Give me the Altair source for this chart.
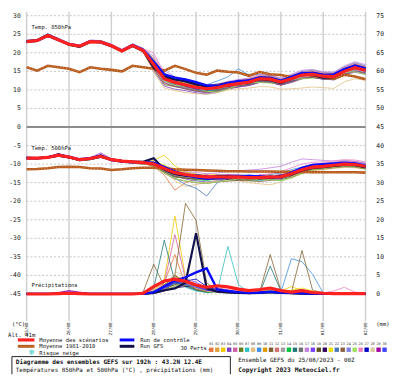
import altair as alt
import pandas as pd

# ---------------- data ----------------
HOURS = list(range(0, 193, 6))
DAY_TICKS = list(range(0, 193, 24))
DAY_LABELS = ["25/08", "26/08", "27/08", "28/08", "29/08", "30/08", "31/08", "01/09", "02/09"]
LEFT_TICKS = list(range(-45, 31, 5))
RIGHT_TICKS = list(range(0, 76, 5))
PRECIP_ZERO = -45  # 0 mm of the right axis sits on -45 of the left axis

PERT_IDS = ["%02d" % i for i in range(1, 31)]
PERT_COLORS = ["#e8743b", "#e0a040", "#f0c800", "#8040c0", "#d060a0", "#608020", "#30c0c0", "#e0c080",
               "#4090e0", "#e09800", "#806030", "#d07070", "#a0a0a0", "#00c040", "#207878", "#707070",
               "#c080e0", "#8040ff", "#605020", "#300060", "#e8e000", "#4878b8", "#8a6040", "#8080e0",
               "#a0e060", "#f080c0", "#0000c0", "#d8c8a0", "#a000a0", "#4040ff"]

T850_MEAN = [23.0, 23.3, 24.7, 23.5, 22.3, 21.8, 23.0, 22.9, 21.9, 20.5, 22.0, 20.6, 16.8, 13.0, 12.0, 11.3, 10.7, 10.3, 10.6, 11.3, 11.7, 12.1, 13.0, 12.9, 12.1, 13.0, 14.0, 14.2, 13.7, 13.6, 15.0, 16.0, 15.3]
T850_CTRL = [23.0, 23.2, 24.6, 23.4, 22.4, 21.8, 23.1, 22.8, 21.8, 20.6, 22.1, 20.8, 17.6, 14.2, 13.3, 12.8, 12.1, 11.2, 10.9, 11.8, 12.4, 12.5, 13.3, 13.1, 12.4, 13.5, 14.6, 14.5, 14.0, 14.2, 15.6, 16.5, 15.8]
T850_GFS = [23.1, 23.4, 24.9, 23.6, 22.2, 21.6, 22.9, 23.0, 22.0, 20.4, 21.8, 20.5, 16.0, 13.5, 12.8, 12.3, 11.5, 10.9, 11.0, 11.9, 12.0, 12.0, 12.8, 12.6, 11.8, 12.9, 14.2, 14.0, 13.3, 13.4, 15.2, 16.2, 15.4]
T850_CLIM = [16.1, 15.2, 16.5, 16.1, 15.7, 14.8, 16.1, 15.7, 15.4, 15.0, 16.5, 16.1, 15.7, 15.2, 16.5, 15.6, 14.6, 14.1, 15.2, 14.9, 14.7, 13.8, 14.8, 14.2, 14.0, 13.5, 14.4, 13.8, 13.5, 13.0, 14.1, 13.6, 12.9]

T500_MEAN = [-8.4, -8.4, -8.2, -7.6, -8.1, -8.8, -8.5, -7.9, -8.8, -9.2, -9.4, -9.6, -10.0, -11.2, -12.3, -12.8, -13.2, -13.5, -13.4, -13.5, -13.5, -13.6, -13.6, -13.5, -13.4, -12.6, -11.5, -10.8, -10.6, -10.3, -10.0, -10.1, -10.6]
T500_CTRL = [-8.3, -8.4, -8.1, -7.5, -8.0, -8.7, -8.4, -7.8, -8.9, -9.3, -9.5, -9.5, -9.6, -10.8, -12.0, -12.9, -13.6, -14.0, -13.8, -13.6, -13.4, -13.2, -13.3, -13.6, -13.5, -12.3, -11.0, -10.2, -10.0, -9.8, -9.6, -9.8, -10.4]
T500_GFS = [-8.5, -8.5, -8.2, -7.7, -8.2, -8.9, -8.6, -8.0, -8.7, -9.1, -9.3, -9.4, -8.4, -11.5, -12.7, -13.1, -13.4, -13.7, -13.2, -13.3, -13.4, -13.5, -13.8, -13.7, -13.2, -12.8, -11.7, -11.0, -10.8, -10.5, -10.2, -10.3, -10.9]
T500_CLIM = [-11.4, -11.3, -11.1, -10.8, -10.7, -10.8, -11.1, -11.2, -11.6, -11.4, -11.1, -11.0, -11.0, -11.2, -11.4, -11.5, -11.6, -11.7, -11.8, -11.9, -11.9, -12.0, -12.0, -12.0, -12.1, -12.1, -12.1, -12.2, -12.2, -12.2, -12.2, -12.2, -12.3]

PRECIP_MEAN = [0, 0, 0, 0.1, 0.2, 0.1, 0, 0, 0, 0, 0, 0.2, 2.0, 3.5, 4.0, 3.4, 2.4, 1.8, 2.2, 1.9, 1.3, 0.9, 1.2, 1.6, 0.9, 0.5, 0.9, 0.4, 0.2, 0.1, 0.1, 0.1, 0.1]
PRECIP_CTRL = [0, 0, 0, 0, 0.2, 0.1, 0, 0, 0, 0, 0, 0, 0.5, 2.0, 3.6, 4.5, 5.8, 6.9, 1.2, 0.8, 0.5, 0.3, 0.4, 0.6, 0.4, 0.3, 0.2, 0.1, 0, 0, 0, 0, 0]
PRECIP_GFS = [0, 0, 0, 0, 0, 0, 0, 0, 0, 0, 0, 0, 0.3, 1.0, 1.5, 3.0, 16.4, 1.5, 0.6, 0.4, 0.3, 0.2, 0.3, 0.5, 0.3, 0.2, 0.1, 0, 0, 0, 0, 0, 0]

T850_PERTS = [
    [23.3, 23.5, 24.9, 23.8, 22.5, 22.0, 23.3, 23.1, 22.2, 20.8, 22.3, 21.0, 18.5, 14.5, 12.8, 12.0, 11.2, 10.8, 11.4, 12.0, 12.6, 13.0, 13.8, 13.9, 12.9, 13.7, 14.8, 15.0, 14.4, 14.2, 15.9, 17.0, 16.2],
    [22.8, 23.1, 24.5, 23.3, 22.0, 21.6, 22.8, 22.7, 21.7, 20.3, 21.8, 20.4, 16.0, 12.2, 11.3, 10.6, 10.0, 9.6, 10.0, 10.7, 11.0, 11.5, 12.3, 12.2, 11.4, 12.3, 13.2, 13.4, 13.0, 12.8, 14.2, 15.1, 14.5],
    [23.2, 23.4, 24.6, 23.6, 22.4, 21.7, 23.2, 23.0, 22.0, 20.7, 22.2, 20.9, 17.9, 13.8, 12.6, 11.9, 11.4, 11.0, 11.2, 11.8, 12.2, 12.8, 13.6, 13.5, 12.8, 13.8, 14.9, 15.2, 14.6, 14.5, 16.0, 17.2, 16.4],
    [22.9, 23.2, 24.8, 23.4, 22.2, 21.9, 22.9, 22.8, 21.8, 20.4, 21.9, 20.5, 15.2, 11.0, 10.2, 9.8, 9.2, 8.9, 9.3, 10.2, 10.8, 11.2, 12.0, 12.1, 11.3, 12.0, 13.0, 13.3, 12.9, 12.7, 14.0, 14.8, 14.2],
    [23.1, 23.4, 24.7, 23.6, 22.4, 21.9, 23.0, 23.0, 22.0, 20.6, 22.1, 20.7, 17.0, 13.4, 12.2, 11.5, 10.9, 10.6, 11.0, 11.5, 11.8, 12.3, 13.2, 13.2, 12.4, 13.2, 14.3, 14.6, 14.2, 14.1, 15.5, 16.6, 15.9],
    [23.0, 23.2, 24.6, 23.4, 22.3, 21.7, 22.9, 22.9, 21.8, 20.5, 21.9, 20.6, 16.5, 12.7, 11.6, 11.8, 11.0, 10.2, 9.8, 10.5, 11.8, 12.6, 12.2, 12.0, 11.5, 13.2, 13.0, 13.6, 14.0, 13.0, 14.0, 15.8, 15.5],
    [23.0, 23.3, 24.8, 23.5, 22.3, 21.8, 23.1, 22.9, 21.9, 20.5, 22.0, 20.6, 17.3, 13.1, 11.9, 11.0, 10.4, 10.0, 10.4, 11.2, 11.6, 12.0, 12.9, 12.7, 11.9, 12.8, 13.9, 14.1, 13.5, 13.4, 14.8, 15.9, 15.1],
    [22.7, 23.0, 24.3, 23.2, 22.0, 21.4, 22.6, 22.5, 21.5, 20.1, 21.6, 20.2, 14.8, 10.5, 9.8, 9.3, 9.0, 8.8, 9.3, 10.0, 10.3, 10.5, 10.9, 10.8, 10.2, 10.3, 10.5, 10.8, 10.6, 10.4, 12.2, 13.0, 12.6],
    [23.4, 23.6, 25.1, 23.9, 22.6, 22.1, 23.4, 23.3, 22.3, 20.9, 22.4, 21.2, 18.2, 14.3, 13.0, 12.3, 11.7, 11.4, 12.4, 13.5, 15.7, 14.0, 14.2, 13.8, 13.0, 14.0, 15.0, 15.3, 14.7, 14.6, 16.2, 17.3, 16.5],
    [23.0, 23.2, 24.6, 23.4, 22.3, 21.7, 22.9, 22.9, 21.8, 20.5, 21.9, 20.6, 16.9, 13.2, 12.0, 11.4, 10.8, 10.3, 10.7, 11.4, 11.9, 12.2, 13.1, 13.0, 12.2, 13.1, 14.1, 14.3, 13.8, 13.8, 15.2, 16.2, 15.5],
    [22.9, 23.2, 24.8, 23.4, 22.2, 21.9, 22.9, 22.8, 21.8, 20.4, 21.9, 20.5, 15.8, 11.4, 10.9, 10.4, 9.9, 9.5, 9.9, 10.6, 11.1, 11.5, 12.3, 12.3, 11.4, 12.4, 13.2, 13.5, 13.0, 12.9, 14.2, 15.2, 14.6],
    [23.1, 23.4, 24.7, 23.6, 22.4, 21.9, 23.0, 23.0, 22.0, 20.6, 22.1, 20.7, 17.6, 13.6, 12.4, 11.7, 11.1, 10.7, 11.1, 11.7, 12.1, 12.5, 13.3, 13.2, 12.5, 13.4, 14.4, 14.7, 14.1, 14.0, 15.6, 16.7, 15.9],
    [23.0, 23.3, 24.8, 23.5, 22.3, 21.8, 23.1, 22.9, 21.9, 20.5, 22.0, 20.6, 16.2, 12.5, 11.5, 10.2, 9.6, 9.9, 10.8, 11.5, 11.0, 11.4, 13.0, 13.4, 12.4, 12.0, 13.0, 14.5, 13.8, 12.6, 14.0, 15.0, 15.8],
    [23.1, 23.4, 24.7, 23.6, 22.4, 21.9, 23.0, 23.0, 22.0, 20.6, 22.1, 20.7, 17.4, 13.0, 11.4, 11.5, 10.9, 9.7, 10.0, 11.6, 12.0, 11.6, 12.5, 13.2, 12.4, 12.6, 13.6, 14.6, 13.2, 13.8, 15.3, 15.6, 15.6],
    [22.9, 23.2, 24.8, 23.4, 22.2, 21.9, 22.9, 22.8, 21.8, 20.4, 21.9, 20.5, 16.6, 12.9, 11.8, 11.2, 10.6, 10.1, 10.5, 11.1, 11.5, 11.9, 12.8, 12.7, 11.9, 12.8, 13.8, 14.0, 13.5, 13.4, 14.8, 15.8, 15.1],
    [23.0, 23.3, 24.8, 23.5, 22.3, 21.8, 23.1, 22.9, 21.9, 20.5, 22.0, 20.6, 16.9, 12.6, 11.0, 10.8, 11.2, 10.6, 10.0, 10.6, 12.2, 12.8, 12.3, 12.0, 11.6, 13.5, 14.6, 13.6, 13.0, 13.9, 15.4, 16.4, 14.6],
    [23.4, 23.6, 25.1, 23.9, 22.6, 22.1, 23.4, 23.3, 22.3, 20.9, 22.4, 21.2, 19.0, 15.2, 13.6, 12.6, 11.8, 11.3, 11.6, 12.3, 12.8, 13.2, 14.1, 14.0, 13.2, 14.2, 15.3, 15.5, 14.9, 14.8, 16.5, 17.6, 16.8],
    [23.0, 23.3, 24.8, 23.5, 22.3, 21.8, 23.1, 22.9, 21.9, 20.5, 22.0, 20.6, 16.4, 12.0, 11.0, 10.3, 9.6, 9.2, 9.6, 10.4, 10.8, 11.2, 12.1, 12.0, 11.3, 12.2, 13.2, 13.4, 12.9, 12.8, 14.2, 15.2, 14.5],
    [22.9, 23.2, 24.8, 23.4, 22.2, 21.9, 22.9, 22.8, 21.8, 20.4, 21.9, 20.5, 16.8, 13.4, 12.2, 10.9, 10.4, 10.6, 10.9, 11.0, 11.4, 12.4, 13.3, 12.6, 11.8, 13.3, 14.3, 13.9, 13.4, 13.9, 14.7, 16.3, 15.0],
    [23.0, 23.3, 24.8, 23.5, 22.3, 21.8, 23.1, 22.9, 21.9, 20.5, 22.0, 20.6, 17.0, 12.8, 12.3, 11.6, 10.2, 9.8, 10.9, 11.8, 11.2, 11.6, 13.4, 13.4, 12.5, 12.4, 13.4, 14.8, 14.2, 13.0, 14.4, 16.4, 15.8],
    [23.1, 23.4, 24.7, 23.6, 22.4, 21.9, 23.0, 23.0, 22.0, 20.6, 22.1, 20.7, 18.0, 13.9, 12.5, 11.7, 11.0, 10.6, 11.0, 11.6, 12.0, 12.4, 13.3, 13.2, 12.4, 13.3, 14.3, 14.5, 14.0, 13.9, 15.4, 16.4, 15.7],
    [23.0, 23.2, 24.6, 23.4, 22.3, 21.7, 22.9, 22.9, 21.8, 20.5, 21.9, 20.6, 16.3, 12.4, 11.4, 10.8, 10.1, 9.7, 10.1, 10.9, 11.3, 11.7, 12.5, 12.4, 11.6, 12.5, 13.5, 13.7, 13.2, 13.1, 14.5, 15.5, 14.8],
    [22.8, 23.1, 24.5, 23.3, 22.0, 21.6, 22.8, 22.7, 21.7, 20.3, 21.8, 20.4, 15.5, 11.8, 10.9, 10.3, 9.7, 9.3, 9.7, 10.4, 10.9, 11.3, 12.1, 12.1, 11.3, 12.1, 13.1, 13.4, 12.9, 12.8, 14.1, 15.0, 14.4],
    [23.1, 23.4, 24.7, 23.6, 22.4, 21.9, 23.0, 23.0, 22.0, 20.6, 22.1, 20.7, 17.2, 13.5, 12.3, 11.6, 11.0, 10.5, 10.8, 11.5, 11.9, 12.4, 13.2, 13.1, 12.3, 13.3, 14.3, 14.5, 14.0, 13.9, 15.3, 16.4, 15.6],
    [23.0, 23.3, 24.8, 23.5, 22.3, 21.8, 23.1, 22.9, 21.9, 20.5, 22.0, 20.6, 16.6, 12.3, 11.2, 11.0, 10.6, 9.6, 9.4, 10.2, 11.3, 12.0, 12.0, 11.8, 12.0, 12.9, 13.0, 13.1, 13.6, 13.5, 14.7, 14.9, 14.2],
    [23.3, 23.5, 24.9, 23.8, 22.5, 22.0, 23.3, 23.1, 22.2, 20.8, 22.3, 21.0, 20.0, 14.0, 12.8, 12.1, 11.5, 11.1, 11.5, 12.1, 12.5, 12.9, 13.8, 13.7, 12.9, 13.9, 14.9, 15.1, 14.6, 14.5, 16.1, 17.1, 16.3],
    [23.0, 23.3, 24.8, 23.5, 22.3, 21.8, 23.1, 22.9, 21.9, 20.5, 22.0, 20.6, 17.5, 13.8, 12.9, 12.4, 11.8, 11.3, 11.5, 12.0, 12.4, 12.8, 13.6, 13.5, 12.7, 13.6, 14.6, 14.8, 14.3, 14.2, 15.7, 16.8, 16.0],
    [22.9, 23.2, 24.8, 23.4, 22.2, 21.9, 22.9, 22.8, 21.8, 20.4, 21.9, 20.5, 16.1, 12.6, 11.7, 11.1, 10.5, 10.1, 10.4, 11.0, 11.4, 11.8, 12.6, 12.5, 11.8, 12.6, 13.5, 13.8, 13.3, 13.2, 14.6, 15.5, 14.9],
    [23.1, 23.4, 24.7, 23.6, 22.4, 21.9, 23.0, 23.0, 22.0, 20.6, 22.1, 20.7, 17.7, 13.3, 12.6, 11.0, 10.3, 10.5, 11.0, 10.9, 11.4, 12.5, 13.4, 12.5, 11.8, 13.4, 14.4, 13.9, 13.3, 14.1, 15.6, 15.7, 15.0],
    [23.0, 23.3, 24.8, 23.5, 22.3, 21.8, 23.1, 22.9, 21.9, 20.5, 22.0, 20.6, 16.7, 12.9, 11.8, 11.1, 10.5, 10.1, 10.5, 11.2, 11.6, 12.0, 12.9, 12.8, 12.0, 12.9, 13.9, 14.1, 13.6, 13.5, 14.9, 16.0, 15.3],
]

T500_PERTS = [
    [-8.3, -8.3, -8.0, -7.4, -8.0, -8.7, -8.4, -7.7, -8.7, -9.1, -9.3, -9.4, -10.5, -13.0, -17.0, -15.0, -14.0, -13.8, -13.0, -13.2, -13.8, -14.0, -13.5, -13.0, -13.2, -12.8, -11.8, -11.0, -10.5, -10.2, -9.8, -9.9, -10.4],
    [-8.5, -8.5, -8.3, -7.8, -8.3, -9.0, -8.7, -8.1, -8.9, -9.4, -9.6, -9.8, -9.8, -10.8, -12.0, -12.5, -13.0, -13.2, -13.5, -13.8, -13.9, -14.0, -14.2, -14.0, -13.8, -13.0, -12.0, -11.3, -11.0, -10.8, -10.5, -10.6, -11.0],
    [-8.4, -8.3, -8.1, -7.5, -8.2, -8.9, -8.6, -7.8, -8.8, -9.2, -9.5, -9.6, -9.0, -7.6, -10.5, -12.0, -12.8, -13.0, -12.8, -13.0, -13.2, -13.4, -13.3, -13.2, -13.0, -12.2, -11.2, -10.5, -10.3, -10.0, -9.6, -9.8, -10.3],
    [-8.6, -8.6, -8.4, -7.9, -8.0, -8.6, -8.3, -7.0, -8.6, -9.0, -9.2, -9.3, -10.2, -11.8, -13.2, -14.0, -14.5, -14.8, -14.5, -14.2, -14.0, -13.8, -13.9, -13.7, -13.5, -12.9, -12.0, -11.2, -10.9, -10.6, -10.2, -10.3, -10.8],
    [-8.2, -8.4, -8.2, -7.7, -8.3, -9.1, -8.8, -8.2, -9.0, -9.4, -9.7, -10.0, -9.7, -11.0, -12.0, -12.6, -13.0, -13.2, -13.0, -13.1, -13.3, -13.4, -13.3, -13.1, -12.9, -12.0, -10.8, -10.0, -9.8, -9.5, -9.2, -9.3, -9.8],
    [-8.4, -8.5, -8.2, -7.2, -8.1, -8.8, -8.4, -7.5, -8.7, -9.3, -9.4, -9.5, -10.3, -12.0, -13.5, -13.8, -14.0, -14.0, -13.8, -14.0, -14.2, -14.4, -14.3, -14.0, -13.8, -13.0, -12.0, -11.3, -11.0, -10.8, -10.5, -10.6, -11.1],
    [-8.5, -8.5, -8.3, -7.8, -8.3, -9.0, -8.7, -8.1, -8.9, -9.4, -9.6, -9.8, -9.5, -10.5, -11.5, -12.2, -12.8, -13.4, -13.6, -13.9, -14.1, -14.2, -14.4, -14.1, -14.5, -13.2, -11.9, -11.0, -10.6, -10.2, -9.9, -10.0, -10.5],
    [-8.2, -8.4, -8.2, -7.7, -8.3, -9.1, -8.8, -8.2, -9.0, -9.4, -9.7, -10.0, -10.0, -11.5, -14.5, -16.0, -15.5, -15.0, -14.4, -14.3, -14.5, -15.0, -15.3, -15.6, -14.8, -13.5, -12.4, -11.8, -11.5, -11.2, -10.9, -11.0, -11.4],
    [-8.3, -8.3, -8.0, -7.4, -8.0, -8.7, -8.4, -7.7, -8.7, -9.1, -9.3, -9.4, -10.1, -11.3, -12.5, -13.0, -13.3, -13.6, -13.2, -13.0, -12.9, -13.0, -13.1, -12.8, -12.4, -11.5, -10.8, -10.4, -10.0, -9.8, -9.5, -9.6, -10.0],
    [-8.4, -8.3, -8.1, -7.5, -8.2, -8.9, -8.6, -7.8, -8.8, -9.2, -9.5, -9.6, -9.9, -11.4, -12.8, -13.3, -13.8, -14.2, -14.0, -13.7, -13.6, -13.5, -13.5, -13.7, -13.8, -13.2, -12.0, -11.0, -10.7, -10.4, -10.2, -10.3, -10.9],
    [-8.5, -8.5, -8.3, -7.8, -8.3, -9.0, -8.7, -8.1, -8.9, -9.4, -9.6, -9.8, -10.2, -12.5, -14.0, -14.6, -15.0, -15.2, -14.8, -14.6, -14.4, -14.5, -14.7, -14.4, -14.2, -13.6, -12.5, -11.6, -11.3, -11.0, -10.7, -10.8, -11.3],
    [-8.4, -8.5, -8.2, -7.2, -8.1, -8.8, -8.4, -7.5, -8.7, -9.3, -9.4, -9.5, -9.8, -11.0, -12.0, -12.5, -13.0, -13.3, -13.1, -13.2, -13.3, -13.2, -13.2, -13.1, -13.0, -12.3, -11.3, -10.6, -10.4, -10.1, -9.8, -9.9, -10.4],
    [-8.4, -8.3, -8.1, -7.5, -8.2, -8.9, -8.6, -7.8, -8.8, -9.2, -9.5, -9.6, -10.0, -11.8, -12.0, -12.2, -13.6, -13.9, -12.8, -13.0, -13.8, -14.2, -13.0, -12.8, -13.6, -13.0, -11.2, -10.4, -10.9, -10.6, -9.8, -10.4, -10.9],
    [-8.3, -8.3, -8.0, -7.4, -8.0, -8.7, -8.4, -7.7, -8.7, -9.1, -9.3, -9.4, -10.1, -11.6, -13.0, -13.6, -14.2, -14.4, -14.0, -13.8, -13.7, -13.8, -13.9, -13.8, -13.5, -12.8, -11.6, -10.9, -10.7, -10.4, -10.1, -10.2, -10.7],
    [-8.2, -8.4, -8.2, -7.7, -8.3, -9.1, -8.8, -8.2, -9.0, -9.4, -9.7, -10.0, -9.6, -10.8, -12.2, -13.0, -13.5, -13.8, -13.6, -13.6, -13.6, -13.7, -13.8, -13.7, -13.6, -12.8, -11.7, -11.0, -10.8, -10.5, -10.2, -10.3, -10.8],
    [-8.5, -8.5, -8.3, -7.8, -8.3, -9.0, -8.7, -8.1, -8.9, -9.4, -9.6, -9.8, -10.4, -11.9, -12.9, -13.3, -13.6, -13.8, -13.7, -13.8, -13.8, -13.9, -13.9, -13.8, -13.7, -12.9, -11.8, -11.1, -10.9, -10.6, -10.3, -10.4, -10.9],
    [-8.6, -8.6, -8.4, -7.9, -8.0, -8.6, -8.3, -7.0, -8.6, -9.0, -9.2, -9.3, -9.5, -10.5, -11.5, -12.0, -12.3, -12.6, -12.4, -12.0, -11.8, -11.6, -11.4, -11.0, -10.6, -9.5, -8.6, -8.8, -9.0, -9.2, -9.0, -9.2, -9.7],
    [-8.4, -8.3, -8.1, -7.5, -8.2, -8.9, -8.6, -7.8, -8.8, -9.2, -9.5, -9.6, -10.4, -11.0, -13.0, -13.6, -12.9, -13.2, -14.2, -14.1, -13.2, -13.1, -14.0, -14.1, -13.0, -12.2, -11.9, -11.2, -10.3, -10.0, -10.4, -10.0, -10.3],
    [-8.5, -8.5, -8.3, -7.8, -8.3, -9.0, -8.7, -8.1, -8.9, -9.4, -9.6, -9.8, -10.6, -12.2, -13.4, -13.8, -14.0, -14.1, -13.9, -13.9, -13.9, -14.0, -14.0, -13.9, -13.8, -13.1, -12.0, -11.3, -11.1, -10.8, -10.5, -10.6, -11.1],
    [-8.4, -8.5, -8.2, -7.2, -8.1, -8.8, -8.4, -7.5, -8.7, -9.3, -9.4, -9.5, -9.6, -11.5, -12.0, -13.4, -13.9, -13.2, -13.2, -14.2, -14.2, -13.4, -13.4, -14.0, -13.9, -13.0, -11.2, -10.6, -11.0, -10.7, -9.9, -9.9, -11.0],
    [-8.3, -8.3, -8.0, -7.4, -8.0, -8.7, -8.4, -7.7, -8.7, -9.1, -9.3, -9.4, -9.4, -10.2, -11.6, -12.2, -12.7, -13.0, -13.1, -13.2, -13.3, -13.4, -13.4, -13.3, -13.1, -12.2, -11.1, -10.4, -10.2, -9.9, -9.6, -9.7, -10.2],
    [-8.2, -8.4, -8.2, -7.7, -8.3, -9.1, -8.8, -8.2, -9.0, -9.4, -9.7, -10.0, -10.2, -11.8, -13.8, -15.5, -16.5, -18.6, -15.0, -13.6, -13.2, -13.0, -13.4, -13.6, -13.3, -12.5, -11.4, -10.7, -10.5, -10.2, -9.9, -10.0, -10.5],
    [-8.5, -8.5, -8.3, -7.8, -8.3, -9.0, -8.7, -8.1, -8.9, -9.4, -9.6, -9.8, -10.3, -12.0, -13.3, -13.7, -13.9, -14.1, -14.0, -14.0, -14.0, -14.1, -14.1, -14.0, -13.9, -13.2, -12.1, -11.4, -11.2, -10.9, -10.6, -10.7, -11.2],
    [-8.4, -8.3, -8.1, -7.5, -8.2, -8.9, -8.6, -7.8, -8.8, -9.2, -9.5, -9.6, -9.9, -10.6, -12.5, -12.4, -13.5, -13.9, -12.9, -12.9, -13.6, -13.8, -12.9, -13.5, -12.8, -12.7, -11.6, -10.2, -10.0, -10.3, -10.0, -9.6, -10.0],
    [-8.2, -8.4, -8.2, -7.7, -8.3, -9.1, -8.8, -8.2, -9.0, -9.4, -9.7, -10.0, -10.4, -12.4, -13.9, -14.5, -14.9, -15.2, -14.8, -14.4, -14.0, -13.9, -14.0, -14.2, -14.4, -13.8, -12.6, -11.6, -11.2, -10.9, -10.6, -10.7, -11.2],
    [-8.3, -8.3, -8.0, -7.4, -8.0, -8.7, -8.4, -7.7, -8.7, -9.1, -9.3, -9.4, -9.6, -10.6, -11.8, -12.4, -12.8, -13.1, -13.0, -13.0, -13.0, -13.1, -13.0, -12.6, -12.0, -11.0, -10.0, -9.5, -9.4, -9.1, -8.8, -8.9, -9.4],
    [-8.4, -8.5, -8.2, -7.2, -8.1, -8.8, -8.4, -7.5, -8.7, -9.3, -9.4, -9.5, -10.2, -11.0, -12.8, -13.3, -12.8, -13.2, -13.9, -13.9, -13.1, -13.2, -14.0, -13.1, -13.8, -12.3, -11.8, -11.1, -10.3, -10.0, -10.3, -10.4, -10.3],
    [-8.5, -8.5, -8.3, -7.8, -8.3, -9.0, -8.7, -8.1, -8.9, -9.4, -9.6, -9.8, -10.2, -11.7, -13.0, -13.4, -13.7, -13.9, -13.8, -13.8, -13.8, -13.9, -13.9, -13.8, -13.7, -12.9, -11.8, -11.1, -10.9, -10.6, -10.3, -10.4, -10.9],
    [-8.4, -8.3, -8.1, -7.5, -8.2, -8.9, -8.6, -7.8, -8.8, -9.2, -9.5, -9.6, -9.6, -11.3, -11.8, -12.9, -13.4, -12.9, -13.5, -12.9, -13.0, -13.8, -13.0, -13.6, -12.9, -12.7, -11.0, -10.9, -10.7, -9.8, -10.1, -9.6, -10.6],
    [-8.3, -8.3, -8.0, -7.4, -8.0, -8.7, -8.4, -7.7, -8.7, -9.1, -9.3, -9.4, -10.1, -11.4, -12.6, -13.1, -13.5, -13.7, -13.6, -13.6, -13.6, -13.7, -13.7, -13.6, -13.5, -12.7, -11.6, -10.9, -10.7, -10.4, -10.1, -10.2, -10.7],
]

PRECIP_PERTS = [
    [0, 0, 0, 0, 0, 0, 0, 0, 0, 0, 0, 0, 1.2, 3.0, 10.6, 2.5, 1.0, 0.5, 0.8, 0.6, 0.3, 0.4, 0.6, 1.0, 0.5, 0.3, 0.2, 0.1, 0, 0, 0, 0, 0],
    [0, 0, 0, 0, 0, 0, 0, 0, 0, 0, 0, 0, 0.6, 2.0, 4.0, 3.0, 1.5, 0.8, 1.2, 2.0, 0.8, 0.4, 0.6, 1.5, 1.0, 0.6, 0.4, 0.2, 0.1, 0, 0, 0, 0],
    [0, 0, 0, 0, 0, 0, 0, 0, 0, 0, 0, 0, 0.8, 4.0, 21.0, 4.5, 1.5, 0.8, 1.0, 0.6, 0.4, 0.3, 0.4, 1.2, 0.8, 2.0, 0.8, 0.3, 0.1, 0, 0, 0, 0],
    [0, 0, 0, 0.3, 0.8, 0.3, 0, 0, 0, 0, 0, 0, 0.4, 2.2, 3.5, 3.0, 2.0, 1.2, 1.5, 0.8, 0.4, 0.3, 0.3, 0.6, 0.4, 0.3, 0.2, 0.1, 0, 0, 0, 0, 0],
    [0, 0, 0, 0, 0, 0, 0, 0, 0, 0, 0, 0, 0.4, 3.0, 16.0, 4.0, 2.2, 1.2, 1.5, 1.2, 0.6, 0.3, 0.5, 0.8, 0.5, 0.4, 0.3, 0.2, 0.1, 0, 0, 0, 0],
    [0, 0, 0, 0, 0, 0, 0, 0, 0, 0, 0, 0, 0.2, 1.5, 3.0, 3.5, 2.2, 0.8, 1.2, 0.6, 0.4, 0.2, 0.4, 0.6, 0.3, 0.2, 0.1, 0, 0, 0, 0, 0, 0],
    [0, 0, 0, 0, 0, 0, 0, 0, 0, 0, 0, 0, 0.8, 2.2, 5.0, 1.8, 0.8, 0.4, 0.6, 12.8, 2.5, 0.4, 0.4, 0.8, 0.6, 0.4, 0.2, 0.1, 0, 0, 0, 0, 0],
    [0, 0, 0, 0, 0, 0, 0, 0, 0, 0, 0, 0, 0.2, 0.8, 2.2, 3.0, 2.5, 1.5, 0.6, 0.8, 0.4, 0.2, 0.2, 0.4, 0.8, 0.3, 0.2, 0.1, 0, 0, 0, 0, 0],
    [0, 0, 0, 0, 0, 0, 0, 0, 0, 0, 0, 0, 0.3, 1.2, 3.0, 2.2, 1.2, 0.8, 1.0, 0.6, 0.4, 0.2, 0.3, 0.6, 0.4, 9.5, 8.7, 5.3, 0.3, 0.1, 0, 0, 0],
    [0, 0, 0, 0, 0, 0, 0, 0, 0, 0, 0, 0, 0.4, 2.0, 5.0, 3.5, 1.6, 0.8, 0.8, 0.6, 0.3, 0.2, 0.3, 0.8, 0.5, 0.3, 0.2, 0.1, 0, 0, 0, 0, 0],
    [0, 0, 0, 0, 0, 0, 0, 0, 0, 0, 0, 0.5, 8.0, 2.0, 5.0, 24.4, 19.8, 3.0, 0.8, 0.6, 0.4, 0.3, 0.5, 10.6, 1.0, 0.5, 11.7, 1.0, 0.3, 0, 0, 0, 0],
    [0, 0, 0, 0, 0, 0, 0, 0, 0, 0, 0, 0, 0.2, 1.5, 3.0, 2.8, 2.0, 1.2, 1.4, 0.8, 0.5, 0.2, 0.4, 0.7, 0.4, 0.2, 0.2, 0.1, 0, 0, 0, 0, 0],
    [0, 0, 0, 0, 0, 0, 0, 0, 0, 0, 0, 0, 0.1, 0.8, 2.0, 2.2, 1.5, 0.8, 1.2, 0.8, 0.4, 0.2, 0.2, 0.5, 0.2, 0.1, 0.1, 0, 0, 0, 0, 0, 0],
    [0, 0, 0, 0, 0, 0, 0, 0, 0, 0, 0, 0, 0.3, 1.8, 3.0, 2.4, 1.2, 0.4, 0.6, 0.4, 0.2, 0.1, 0.2, 0.4, 0.2, 0.1, 0.1, 0, 0, 0, 0, 0, 0],
    [0, 0, 0, 0, 0, 0, 0, 0, 0, 0, 0, 0.3, 1.5, 14.5, 3.2, 2.0, 1.0, 0.5, 0.8, 0.4, 0.2, 0.1, 0.2, 7.5, 0.8, 0.2, 0.1, 0, 0, 0, 0, 0, 0],
    [0, 0, 0, 0, 0, 0, 0, 0, 0, 0, 0, 0, 0.4, 1.6, 2.5, 2.2, 1.2, 0.6, 0.8, 0.5, 0.2, 0.1, 0.2, 0.4, 0.2, 0.1, 0.1, 0, 0, 0, 0, 0, 0],
    [0, 0, 0, 0, 0, 0, 0, 0, 0, 0, 0, 0, 0.2, 1.0, 4.0, 3.8, 2.2, 1.2, 0.8, 0.6, 0.4, 0.2, 0.3, 0.5, 0.3, 0.2, 0.2, 0.1, 0, 0, 0, 0, 0],
    [0, 0, 0, 0.2, 0.6, 0.4, 0, 0, 0, 0, 0, 0, 0.4, 2.2, 3.5, 4.0, 3.2, 1.5, 0.8, 1.0, 0.4, 0.2, 0.3, 0.5, 0.4, 0.8, 1.2, 0.6, 0.4, 0.2, 0.1, 0, 0],
    [0, 0, 0, 0, 0, 0, 0, 0, 0, 0, 0, 0, 0.2, 1.2, 2.5, 3.2, 2.0, 0.8, 0.6, 0.4, 0.2, 0.1, 0.2, 0.4, 0.2, 0.1, 0.1, 0, 0, 0, 0, 0, 0],
    [0, 0, 0, 0, 0, 0, 0, 0, 0, 0, 0, 0, 0.2, 0.8, 1.6, 2.0, 2.4, 1.2, 0.8, 0.5, 0.3, 0.1, 0.2, 0.4, 0.2, 0.1, 0.1, 0, 0, 0, 0, 0, 0],
    [0, 0, 0, 0, 0, 0, 0, 0, 0, 0, 0, 0, 0.6, 2.6, 4.5, 3.4, 1.6, 0.8, 1.0, 0.6, 0.3, 0.2, 0.3, 0.6, 0.4, 1.0, 1.6, 0.8, 0.2, 0.1, 0, 0, 0],
    [0, 0, 0, 0, 0, 0, 0, 0, 0, 0, 0, 0, 0.3, 2.0, 3.5, 2.6, 2.0, 1.2, 0.8, 0.5, 0.2, 0.1, 0.3, 0.5, 0.4, 0.2, 0.1, 0, 0, 0, 0, 0, 0],
    [0, 0, 0, 0, 0, 0, 0, 0, 0, 0, 0, 0, 0.5, 2.4, 5.0, 3.0, 1.2, 0.6, 0.5, 0.3, 0.2, 0.1, 0.2, 0.5, 0.3, 0.2, 0.1, 0, 0, 0, 0, 0, 0],
    [0, 0, 0, 0.3, 0.5, 0.2, 0, 0, 0, 0, 0, 0, 0.2, 1.6, 3.5, 3.4, 2.6, 1.4, 0.8, 0.6, 0.4, 0.2, 0.3, 0.5, 0.2, 0.1, 0.1, 0, 0, 0, 0, 0, 0],
    [0, 0, 0, 0, 0, 0, 0, 0, 0, 0, 0, 0, 0.2, 1.0, 2.2, 2.8, 1.8, 0.8, 0.5, 0.3, 0.2, 0.1, 0.2, 0.3, 0.2, 0.1, 0, 0, 0, 0, 0, 0, 0],
    [0, 0, 0, 0, 0, 0, 0, 0, 0, 0, 0, 0, 0.3, 1.8, 4.5, 3.2, 1.6, 1.0, 0.8, 0.5, 0.3, 0.2, 0.3, 0.5, 0.3, 0.2, 0.1, 0.1, 0.3, 0.8, 1.8, 0.5, 0.2],
    [0, 0, 0, 0, 0, 0, 0, 0, 0, 0, 0, 0, 0.4, 1.6, 3.0, 3.5, 4.0, 2.0, 1.0, 0.6, 0.3, 0.2, 0.3, 0.6, 0.3, 0.2, 0.1, 0, 0, 0, 0, 0, 0],
    [0, 0, 0, 0, 0, 0, 0, 0, 0, 0, 0, 0, 0.2, 1.2, 6.0, 5.0, 2.4, 0.8, 0.4, 0.3, 0.2, 0.1, 0.2, 0.4, 0.2, 0.1, 0, 0, 0, 0, 0, 0, 0],
    [0, 0, 0, 0.4, 0.9, 0.5, 0.1, 0, 0, 0, 0, 0, 0.5, 2.4, 3.5, 3.2, 2.2, 1.0, 0.6, 0.4, 0.2, 0.1, 0.2, 0.5, 0.2, 0.1, 0.1, 0, 0, 0, 0, 0, 0],
    [0, 0, 0, 0, 0, 0, 0, 0, 0, 0, 0, 0, 0.2, 1.6, 3.0, 2.6, 1.8, 1.0, 0.8, 0.4, 0.2, 0.1, 0.2, 0.5, 0.3, 0.2, 0.1, 0, 0, 0, 0, 0, 0],
]

# ---------------- layout ----------------
W, H = 346, 316
Y_MIN, Y_MAX = -52.38, 31.06
MONO = "DejaVu Sans Mono"
OX, OY = 27, 8  # plot origin in page pixels (page margin + padding)

xs = alt.Scale(domain=[0, 192], nice=False, zero=False)
ys = alt.Scale(domain=[Y_MIN, Y_MAX], nice=False, zero=False)


def series_rows(values, group, kind, offset=0.0):
    return [{"h": h, "v": v + offset, "g": group, "k": kind} for h, v in zip(HOURS, values)]


member_rows = []
for pid, a, b, c in zip(PERT_IDS, T850_PERTS, T500_PERTS, PRECIP_PERTS):
    member_rows += series_rows(a, "t850_" + pid, pid)
    member_rows += series_rows(b, "t500_" + pid, pid)
    member_rows += series_rows(c, "rr_" + pid, pid, PRECIP_ZERO)
df_members = pd.DataFrame(member_rows)

df_clim = pd.DataFrame(series_rows(T850_CLIM, "t850", "clim") + series_rows(T500_CLIM, "t500", "clim"))
df_ctrl = pd.DataFrame(series_rows(T850_CTRL, "t850", "ctrl") + series_rows(T500_CTRL, "t500", "ctrl")
                       + series_rows(PRECIP_CTRL, "rr", "ctrl", PRECIP_ZERO))
df_gfs = pd.DataFrame(series_rows(T850_GFS, "t850", "gfs") + series_rows(T500_GFS, "t500", "gfs")
                      + series_rows(PRECIP_GFS, "rr", "gfs", PRECIP_ZERO))
df_mean = pd.DataFrame(series_rows(T850_MEAN, "t850", "mean") + series_rows(T500_MEAN, "t500", "mean")
                       + series_rows(PRECIP_MEAN, "rr", "mean", PRECIP_ZERO))

X = alt.X("h:Q", scale=xs, axis=None)
Y = alt.Y("v:Q", scale=ys, axis=None)
color_scale = alt.Scale(domain=PERT_IDS, range=PERT_COLORS)

grid_h = alt.Chart(pd.DataFrame({"v": LEFT_TICKS})).mark_rule(
    color="#c4c4c4", strokeDash=[2, 2], strokeWidth=1
).encode(y=Y, x=alt.value(0), x2=alt.value(W))

grid_v = alt.Chart(pd.DataFrame({"h": DAY_TICKS})).mark_rule(color="#d0d0d0", strokeWidth=1.5).encode(
    x=X, y=alt.value(0), y2=alt.value(H))

zero_line = alt.Chart(pd.DataFrame({"v": [0]})).mark_rule(color="#8c8c8c", strokeWidth=2).encode(
    y=Y, x=alt.value(0), x2=alt.value(W))

left_labels = alt.Chart(pd.DataFrame({"v": LEFT_TICKS, "lab": [str(t) for t in LEFT_TICKS]})).mark_text(
    align="right", baseline="middle", font=MONO, fontSize=6.5, color="#222"
).encode(y=Y, x=alt.value(-6), text="lab:N")

right_labels = alt.Chart(pd.DataFrame({"r": RIGHT_TICKS})).transform_calculate(
    v="datum.r + %d" % PRECIP_ZERO
).mark_text(align="left", baseline="middle", font=MONO, fontSize=6.5, color="#222").encode(
    y=Y, x=alt.value(W + 11), text="r:Q")

day_labels = alt.Chart(pd.DataFrame({"h": DAY_TICKS, "lab": DAY_LABELS})).mark_text(
    align="right", baseline="middle", angle=270, font=MONO, fontSize=4.4, color="#222"
).encode(x=X, y=alt.value(H + 1), text="lab:N")

members = alt.Chart(df_members).mark_line(strokeWidth=0.8).encode(
    x=X, y=Y, color=alt.Color("k:N", scale=color_scale, legend=None), detail="g:N")

clim = alt.Chart(df_clim).mark_line(color="#b4581c", strokeWidth=2.6).encode(x=X, y=Y, detail="g:N")
clim_dots = alt.Chart(df_clim).mark_line(color="#e8a060", strokeWidth=0.8, strokeDash=[1, 2]).encode(
    x=X, y=Y, detail="g:N")
gfs = alt.Chart(df_gfs).mark_line(color="#10104a", strokeWidth=2.2).encode(x=X, y=Y, detail="g:N")
ctrl = alt.Chart(df_ctrl).mark_line(color="#0a0aff", strokeWidth=2.4).encode(x=X, y=Y, detail="g:N")
mean = alt.Chart(df_mean).mark_line(color="#ff2020", strokeWidth=3.2).encode(x=X, y=Y, detail="g:N")

one = pd.DataFrame({"a": [0]})


def txt(s, x, y, size=6.2, bold=False, color="#111", align="left", font=MONO):
    return alt.Chart(one).mark_text(
        text=s, align=align, baseline="middle", font=font, fontSize=size,
        fontWeight="bold" if bold else "normal", color=color
    ).encode(x=alt.value(x - OX), y=alt.value(y - OY))


def hline(x1, x2, y, color, width, dash=None):
    kw = {"color": color, "strokeWidth": width}
    if dash:
        kw["strokeDash"] = dash
    return alt.Chart(one).mark_rule(**kw).encode(
        x=alt.value(x1 - OX), x2=alt.value(x2 - OX), y=alt.value(y - OY))


def vline(x, y1, y2, color, width):
    return alt.Chart(one).mark_rule(color=color, strokeWidth=width).encode(
        x=alt.value(x - OX), y=alt.value(y1 - OY), y2=alt.value(y2 - OY))


texts = [
    txt("Temp. 850hPa", 32, 24, 5.6),
    txt("Temp. 500hPa", 32, 147, 5.6),
    txt("Précipitations", 32, 287, 5.6),
    txt("(°C)", 12, 327, 5.6),
    txt("Alt. 41m", 8, 338, 5.8),
    txt("(mm)", 384, 327, 5.6),
    txt("Moyenne des scénarios", 40, 343, 5.6),
    txt("Moyenne 1981-2010", 40, 349.5, 5.6),
    txt("Risque neige", 40, 356, 5.6),
    txt("❄", 32, 356, 8, color="#40c8c8", font="DejaVu Sans", align="center"),
    txt("Run de contrôle", 143, 343, 5.6),
    txt("Run GFS", 143, 349.5, 5.6),
    txt("30 Perts.", 184, 351, 5.6),
    txt("Diagramme des ensembles GEFS sur 192h : 43.2N 12.4E", 16, 366, 6.2, bold=True),
    txt("Températures 850hPa et 500hPa (°C) , précipitations (mm)", 16, 374, 6.0),
    txt("Ensemble GEFS du 25/08/2023 - 00Z", 243, 364, 6.0),
    txt("Copyright 2023 Meteociel.fr", 243, 374, 6.4, bold=True),
]

legend_lines = [
    hline(18, 35, 343, "#ff2020", 3.2),
    hline(18, 35, 349.5, "#b4581c", 3),
    hline(18, 35, 349.5, "#e8a060", 0.8, [1, 2]),
    hline(122, 137, 343, "#0a0aff", 3),
    hline(122, 137, 349.5, "#10104a", 3),
    hline(12, 235, 360, "#222", 1),
    vline(12, 360, 378, "#222", 1),
    vline(235, 360, 378, "#222", 1),
]

df_box = pd.DataFrame({"k": PERT_IDS})
df_box["bx"] = [213 - OX + 6.1 * i + 2.5 for i in range(len(PERT_IDS))]
boxes = alt.Chart(df_box).mark_square(size=20, opacity=1, filled=True).encode(
    x=alt.X("bx:Q", scale=None), y=alt.value(353 - OY),
    color=alt.Color("k:N", scale=color_scale, legend=None))
box_nums = alt.Chart(df_box).mark_text(font=MONO, fontSize=3.6, color="#333", baseline="middle").encode(
    x=alt.X("bx:Q", scale=None), y=alt.value(347 - OY), text="k:N")

chart = alt.layer(
    grid_v, grid_h, zero_line, members, clim, clim_dots, gfs, ctrl, mean,
    left_labels, right_labels, day_labels,
    *texts, *legend_lines, boxes, box_nums
).properties(
    width=W, height=H,
    autosize=alt.AutoSizeParams(type="none"),
    padding={"left": 19, "top": 0, "right": 27, "bottom": 54},
    background="white",
).configure_view(stroke=None)

chart.save("out.html", embed_options={"renderer": "svg", "actions": False})
